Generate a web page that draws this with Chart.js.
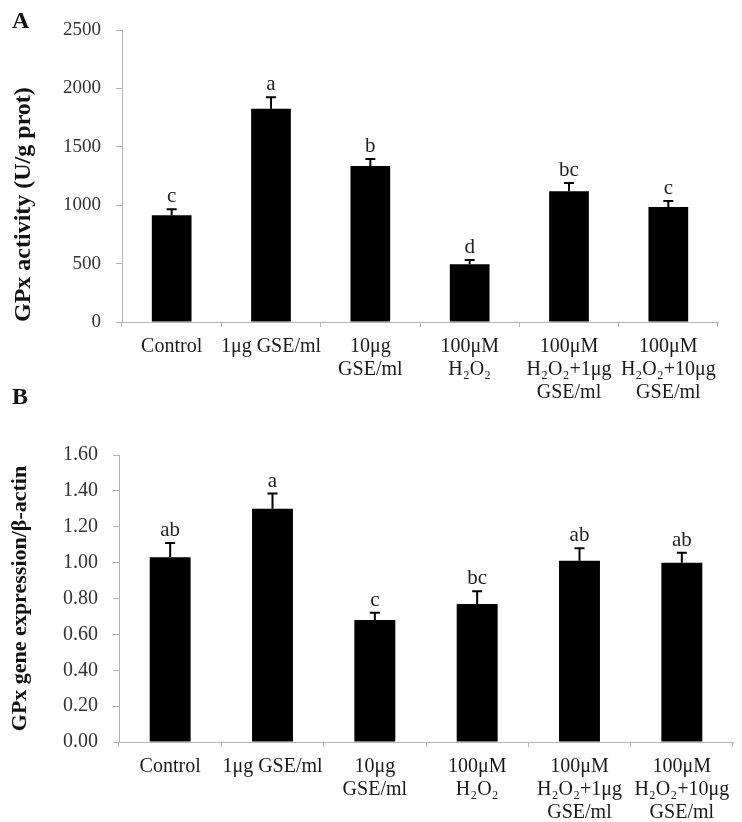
<!DOCTYPE html>
<html>
<head>
<meta charset="utf-8">
<script src="https://cdn.jsdelivr.net/npm/chart.js@4/dist/chart.umd.min.js"></script>
<style>
  body { margin: 0; background: #fff; }
  .panel { position: absolute; left: 0; width: 742px; }
  .tag { position: absolute; left: 12px; font: bold 24px "Liberation Serif", serif; color: #111; }
</style>
</head>
<body>
<div class="panel" style="top:0;height:410px"><canvas id="chart-a"></canvas></div>
<div class="panel" style="top:410px;height:412px"><canvas id="chart-b"></canvas></div>
<div class="tag" style="top:7px">A</div>
<div class="tag" style="top:383px">B</div>
<script>
'use strict';

const groups = [
  ['Control'],
  ['1μg GSE/ml'],
  ['10μg', 'GSE/ml'],
  ['100μM', 'H₂O₂'],
  ['100μM', 'H₂O₂+1μg', 'GSE/ml'],
  ['100μM', 'H₂O₂+10μg', 'GSE/ml']
];

// panel A: GPx activity
const activity = [915, 1825, 1335, 495, 1120, 985];
const activityErr = [50, 100, 60, 35, 70, 50];
const activityLetters = ['c', 'a', 'b', 'd', 'bc', 'c'];

// panel B: GPx gene expression
const expression = [1.03, 1.30, 0.68, 0.77, 1.01, 1.00];
const expressionErr = [0.08, 0.085, 0.04, 0.07, 0.07, 0.055];
const expressionLetters = ['ab', 'a', 'c', 'bc', 'ab', 'ab'];

const SERIF = '"Liberation Serif", "Times New Roman", serif';
const AXIS = '#b4b4b4';

// upper error bars + significance letters
const errorBars = {
  id: 'errorBars',
  afterDatasetsDraw(chart, args, opts) {
    const { ctx } = chart;
    const y = chart.scales.y;
    const meta = chart.getDatasetMeta(0);
    ctx.save();
    ctx.strokeStyle = '#000';
    ctx.lineWidth = 2;
    ctx.fillStyle = '#222';
    ctx.font = '21px ' + SERIF;
    ctx.textAlign = 'center';
    ctx.textBaseline = 'alphabetic';
    meta.data.forEach((bar, i) => {
      const v = chart.data.datasets[0].data[i];
      const top = y.getPixelForValue(v + opts.errors[i]);
      const base = y.getPixelForValue(v);
      ctx.beginPath();
      ctx.moveTo(bar.x, base);
      ctx.lineTo(bar.x, top);
      ctx.moveTo(bar.x - 5, top);
      ctx.lineTo(bar.x + 5, top);
      ctx.stroke();
      ctx.fillText(opts.letters[i], bar.x, top - 7);
    });
    ctx.restore();
  }
};

function makeChart(id, values, errors, letters, yOpts) {
  const ctx = document.getElementById(id).getContext('2d');
  return new Chart(ctx, {
    type: 'bar',
    data: {
      labels: groups,
      datasets: [{ data: values, backgroundColor: '#000', borderWidth: 0,
        barPercentage: 0.4, categoryPercentage: 1 }]
    },
    options: {
      responsive: true, maintainAspectRatio: false, animation: false,
      layout: { padding: yOpts.padding },
      plugins: {
        legend: { display: false }, tooltip: { enabled: false },
        errorBars: { errors, letters }
      },
      scales: {
        x: {
          grid: { drawOnChartArea: false, drawTicks: true, tickLength: 5, color: AXIS, offset: true },
          border: { color: AXIS },
          ticks: { color: '#1a1a1a', font: { family: SERIF, size: 20, lineHeight: 1.15 }, padding: 8,
            maxRotation: 0, autoSkip: false },
          afterFit: s => { s.height = yOpts.xHeight; }
        },
        y: {
          min: 0, max: yOpts.max,
          grid: { drawOnChartArea: false, drawTicks: true, tickLength: 6, color: AXIS },
          border: { color: AXIS },
          ticks: { stepSize: yOpts.step, color: '#333', font: { family: SERIF, size: yOpts.tickSize }, padding: 15,
            callback: yOpts.fmt },
          title: { display: true, text: yOpts.title, align: yOpts.align, color: '#111',
            font: { family: SERIF, size: yOpts.titleSize, weight: 'bold' },
            padding: { top: yOpts.titlePad, bottom: 0 } },
          afterFit: s => { s.width = yOpts.yWidth; }
        }
      }
    },
    plugins: [errorBars]
  });
}

makeChart('chart-a', activity, activityErr, activityLetters, {
  max: 2500, step: 500, fmt: v => String(v), tickSize: 19,
  title: 'GPx activity (U/g prot)', align: 'start', titleSize: 24, titlePad: 9,
  padding: { top: 30, right: 24, left: 0, bottom: 0 },
  xHeight: 88, yWidth: 122
});

makeChart('chart-b', expression, expressionErr, expressionLetters, {
  max: 1.6, step: 0.2, fmt: v => v.toFixed(2), tickSize: 20,
  title: 'GPx gene expression/β-actin', align: 'center', titleSize: 22, titlePad: 7,
  padding: { top: 45, right: 9, left: 0, bottom: 0 },
  xHeight: 80, yWidth: 119
});
</script>
</body>
</html>
